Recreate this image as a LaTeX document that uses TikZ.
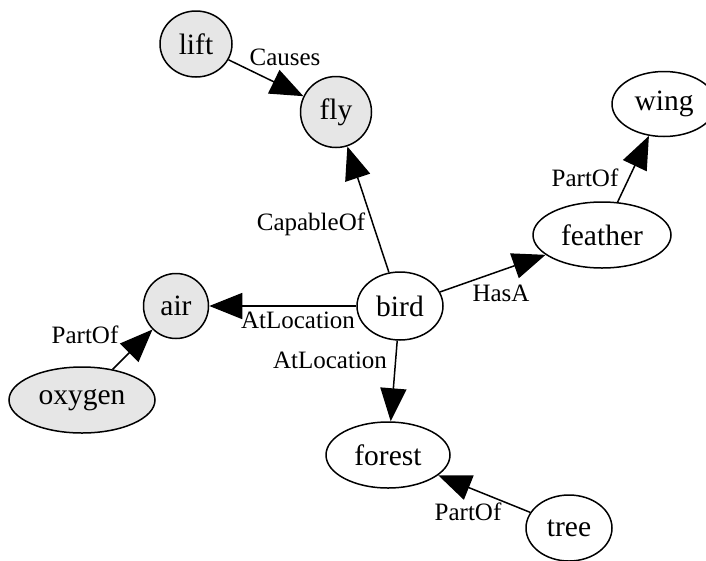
\documentclass[tikz,border=0pt]{standalone}
\usepackage{fontspec}
\setmainfont{Liberation Serif}
\usepackage{xcolor}
\definecolor{seedgray}{HTML}{E6E6E6}
\usepackage{tikz}
\usetikzlibrary{arrows.meta, shapes.geometric}

\newcommand{\conceptfont}{\fontsize{29.5}{32}\selectfont}
\newcommand{\relfont}{\fontsize{25}{27}\selectfont}

\tikzset{
  concept/.style={ellipse, draw, line width=1.5pt, inner sep=0pt, font=\conceptfont},
  seed/.style={concept, fill=seedgray},
  rel/.style={-{Triangle[length=33pt, width=26pt]}, line width=1.5pt},
  rellabel/.style={inner sep=0pt, font=\relfont}
}

\begin{document}
\begin{tikzpicture}[x=1pt, y=-1pt]

  % Rahmen wie im Bild
  \useasboundingbox (0,0) rectangle (706,560);

  % Knoten
  \node[seed, minimum width=72pt, minimum height=66pt] (lift) at (196,44) {lift};
  \node[seed, minimum width=71pt, minimum height=71pt] (fly) at (336,112) {fly};
  \node[seed, minimum width=65pt, minimum height=65pt] (air) at (176,306) {air};
  \node[seed, minimum width=146pt, minimum height=66pt] (oxygen) at (82,400) {oxygen};
  \node[concept, minimum width=86pt, minimum height=68pt] (bird) at (400,306) {bird};
  \node[concept, minimum width=104pt, minimum height=65pt] (wing) at (664,104) {wing};
  \node[concept, minimum width=138pt, minimum height=66pt] (feather) at (602,235) {feather};
  \node[concept, minimum width=124pt, minimum height=66pt] (forest) at (388,455) {forest};
  \node[concept, minimum width=86pt, minimum height=66pt] (tree) at (569,528) {tree};

  % Kanten
  \draw[rel] (lift) -- (fly);
  \draw[rel] (bird) -- (fly);
  \draw[rel] (bird) -- (air);
  \draw[rel] (bird) -- (forest);
  \draw[rel] (bird) -- (feather);
  \draw[rel] (feather) -- (wing);
  \draw[rel] (oxygen) -- (air);
  \draw[rel] (tree) -- (forest);

  % Beschriftungen der Kanten
  \node[rellabel] (causesLbl) at (285,57) {Causes};
  \node[rellabel] (capableLbl) at (311,224) {CapableOf};
  \node[rellabel] (airLocLbl) at (298,320) {AtLocation};
  \node[rellabel] (forestLocLbl) at (330,360) {AtLocation};
  \node[rellabel] (hasLbl) at (501,293) {HasA};
  \node[rellabel] (wingPartLbl) at (585,178) {PartOf};
  \node[rellabel] (airPartLbl) at (85,335) {PartOf};
  \node[rellabel] (forestPartLbl) at (468,512) {PartOf};

\end{tikzpicture}
\end{document}
